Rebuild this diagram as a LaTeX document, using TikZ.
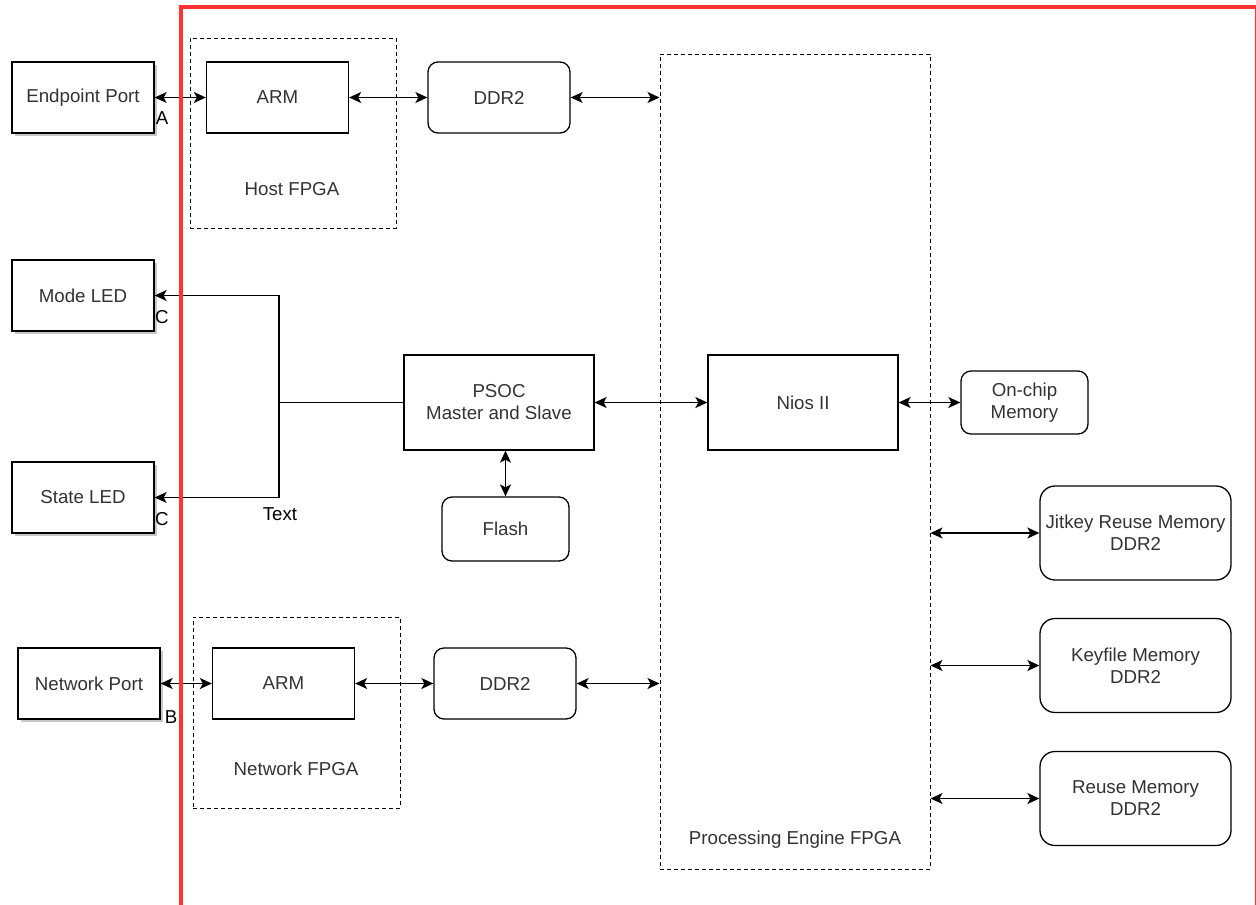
\documentclass[tikz,border=0pt]{standalone}
\usepackage{fontspec}
\setmainfont{Liberation Sans}
\usepackage{tikz}
\usetikzlibrary{arrows.meta, positioning, shadows}
\definecolor{frame-red}{RGB}{255,51,51}
\definecolor{box-text}{RGB}{51,51,51}

\begin{document}
\begin{tikzpicture}[
    x=1pt, y=-1pt,
    font=\fontsize{18.7}{22}\selectfont,
    block/.style={rectangle, draw, fill=white, line width=1.3pt, text=box-text, align=center, inner sep=2pt, minimum width=142pt, minimum height=71pt},
    port/.style={block, drop shadow={shadow xshift=3pt, shadow yshift=-3pt, fill=black!22, opacity=1}},
    mem/.style={block, rounded corners=10pt},
    bigmem/.style={block, rounded corners=15pt, minimum width=191pt, minimum height=94pt},
    fpga/.style={rectangle, draw, line width=1pt, dash pattern=on 4pt off 3pt},
    caption/.style={text=box-text, inner sep=0pt},
    tag/.style={text=black, inner sep=0pt},
    link/.style={{Stealth[length=12pt,width=11pt,inset=3pt]}-{Stealth[length=12pt,width=11pt,inset=3pt]}, line width=1.4pt},
    feed/.style={-{Stealth[length=12pt,width=11pt,inset=3pt]}, line width=1.3pt}
]
    \clip (0,0) rectangle (1256,905);

    % FPGA groups
    \node[fpga, minimum width=206pt, minimum height=190pt] (hostfpga) at (293,133) {};
    \node[caption] (hostlbl) at (292,189) {Host FPGA};
    \node[fpga, minimum width=207pt, minimum height=191pt] (netfpga) at (296.5,712.5) {};
    \node[caption] (netlbl) at (296,769) {Network FPGA};
    \node[fpga, minimum width=270pt, minimum height=815pt] (pe) at (795,461.5) {};
    \node[caption] (pelbl) at (795,840) {Processing Engine FPGA};

    % Host side
    \node[port] (endpoint) at (83,97.5) {Endpoint Port};
    \node[block] (hostarm) at (277.5,97.5) {ARM};
    \node[mem] (hostddr) at (499,97.5) {DDR2};

    % LEDs and PSOC
    \node[port] (modeled) at (83,295.5) {Mode LED};
    \node[port] (stateled) at (83,497.5) {State LED};
    \node[block, minimum width=190pt, minimum height=95pt] (psoc) at (499,402.5) {PSOC\\Master and Slave};
    \node[mem, minimum width=127pt, minimum height=64pt] (flash) at (505.5,529) {Flash};
    \node[block, minimum width=190pt, minimum height=95pt] (nios) at (803,402.5) {Nios II};
    \node[mem, minimum width=127pt, minimum height=63pt] (onchip) at (1024.5,402.5) {On-chip\\Memory};

    % Memories
    \node[bigmem] (jitkey) at (1135.5,533) {Jitkey Reuse Memory\\DDR2};
    \node[bigmem] (keyfile) at (1135.5,665.5) {Keyfile Memory\\DDR2};
    \node[bigmem] (reuse) at (1135.5,798.5) {Reuse Memory\\DDR2};

    % Network side
    \node[port] (netport) at (89,683.5) {Network Port};
    \node[block] (netarm) at (283.5,683.5) {ARM};
    \node[mem] (netddr) at (505,683.5) {DDR2};

    % Tags
    \node[tag] (taga) at (162,118) {A};
    \node[tag] (tagc1) at (162,317) {C};
    \node[tag] (tagc2) at (162,519) {C};
    \node[tag] (tagb) at (171,717) {B};
    \node[tag] (tagtext) at (280,514) {Text};

    % Arrows
    \draw[link] (endpoint) -- (hostarm);
    \draw[link] (hostarm) -- (hostddr);
    \draw[link] (hostddr.east) -- (hostddr.east -| pe.west);
    \draw[link] (psoc) -- (nios);
    \draw[link] (nios) -- (onchip);
    \draw[link] (psoc.south -| flash.north) -- (flash.north);
    \draw[link] (pe.east |- jitkey.west) -- (jitkey.west);
    \draw[link] (pe.east |- keyfile.west) -- (keyfile.west);
    \draw[link] (pe.east |- reuse.west) -- (reuse.west);
    \draw[link] (netport) -- (netarm);
    \draw[link] (netarm) -- (netddr);
    \draw[link] (netddr.east) -- (netddr.east -| pe.west);

    \coordinate (split) at (279,402.5);
    \draw[line width=1.3pt] (psoc.west) -- (split);
    \draw[feed] (split) |- (modeled.east);
    \draw[feed] (split) |- (stateled.east);

    % Red frame
    \draw[frame-red, line width=4pt] (181,920) -- (181,6.5) -- (1257,6.5) -- (1257,920);
\end{tikzpicture}
\end{document}
